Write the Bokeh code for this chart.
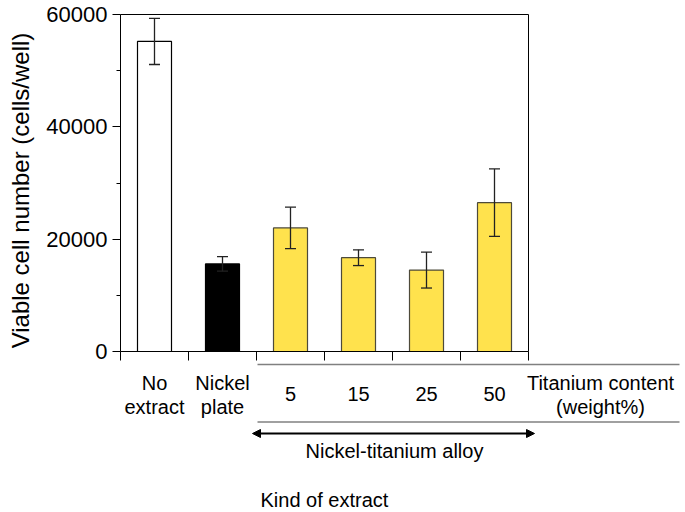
import math
from bokeh.plotting import figure
from bokeh.models import (ColumnDataSource, Range1d, FixedTicker, Whisker, TeeHead,
                          Arrow, NormalHead, LinearAxis, CustomLabelingPolicy)
from bokeh.core.properties import value
from bokeh.embed import file_html
from bokeh.resources import INLINE

# ---- data ----
categories = ["No extract", "Nickel plate", "5", "15", "25", "50"]
values = [55200, 15600, 22000, 16700, 14500, 26500]
errors = [4100, 1300, 3700, 1400, 3200, 6000]
fills = ["#ffffff", "#000000", "#ffe24d", "#ffe24d", "#ffe24d", "#ffe24d"]
outlines = ["#000000", "#000000", "#4d4a3a", "#4d4a3a", "#4d4a3a", "#4d4a3a"]
y_ticks = [0, 20000, 40000, 60000]
y_minor = [10000, 30000, 50000]

FONT = "Liberation Sans"
W, H = 685, 512
YMAX = 60000
NCAT = len(categories)
# plot-box geometry (pixels in canvas)
BOX_L, BOX_R, BOX_T, BOX_B = 120, 528, 14, 351
PX_PER_CAT = (BOX_R - BOX_L) / NCAT
PX_PER_VAL = (BOX_B - BOX_T) / YMAX

def xpx(px):
    return (px - BOX_L) / PX_PER_CAT

def ypx(py):
    return (BOX_B - py) / PX_PER_VAL

xs = [i + 0.5 for i in range(NCAT)]
src = ColumnDataSource(dict(x=xs, top=values, fill=fills, line=outlines,
                            upper=[v + e for v, e in zip(values, errors)],
                            lower=[v - e for v, e in zip(values, errors)]))

p = figure(width=W, height=H, output_backend="svg", toolbar_location=None,
           x_range=Range1d(xpx(0), xpx(W)), y_range=Range1d(ypx(H), ypx(0)),
           min_border_left=0, min_border_right=0, min_border_top=0, min_border_bottom=0,
           x_axis_location=None, y_axis_location=None)
p.grid.visible = False
p.outline_line_color = None
p.background_fill_color = "white"
p.border_fill_color = "white"

p.vbar(x="x", top="top", width=0.5, bottom=0, source=src,
       fill_color="fill", line_color="line", line_width=1.2)

wh = Whisker(source=src, base="x", upper="upper", lower="lower", level="overlay",
             line_color="#222222", line_width=1.3,
             upper_head=TeeHead(size=11, line_color="#222222", line_width=1.3),
             lower_head=TeeHead(size=11, line_color="#222222", line_width=1.3))
p.add_layout(wh)

# left y axis (at x = 0)
ya = LinearAxis(fixed_location=0, bounds=(0, YMAX),
                ticker=FixedTicker(ticks=y_ticks, minor_ticks=y_minor))
ya.major_label_text_font = FONT
ya.major_label_text_font_size = "22px"
ya.major_label_text_color = "black"
ya.major_label_standoff = 5
ya.major_tick_out = 8
ya.major_tick_in = 0
ya.minor_tick_out = 4
ya.minor_tick_in = 0
ya.axis_line_color = "black"
ya.major_tick_line_color = "black"
ya.minor_tick_line_color = "black"
p.add_layout(ya, "left")

# bottom x axis: ticks at category boundaries, labels suppressed
no_labels = CustomLabelingPolicy(code="""
    const ids = Array.from(indices)
    for (const i of ids)
        indices.unset(i)
    return indices
""")
xa = LinearAxis(fixed_location=0, bounds=(0, NCAT),
                ticker=FixedTicker(ticks=list(range(NCAT + 1)), minor_ticks=[]),
                major_label_policy=no_labels)
xa.major_tick_out = 9
xa.major_tick_in = 0
xa.axis_line_color = "black"
xa.major_tick_line_color = "black"
p.add_layout(xa, "below")

# top and right frame lines
ta = LinearAxis(fixed_location=YMAX, bounds=(0, NCAT),
                ticker=FixedTicker(ticks=[], minor_ticks=[]))
ta.major_tick_line_color = None
ta.minor_tick_line_color = None
p.add_layout(ta, "above")
ra = LinearAxis(fixed_location=NCAT, bounds=(0, YMAX),
                ticker=FixedTicker(ticks=[], minor_ticks=[]))
ra.major_tick_line_color = None
ra.minor_tick_line_color = None
p.add_layout(ra, "right")

def lab(text, x, y, align="center", angle=0.0, size="20px"):
    p.text(x=[x], y=[y], text=[text], text_font=value(FONT), text_font_size=value(size),
           text_color="black", text_align=align, text_baseline="middle", angle=angle)

# y axis title
lab("Viable cell number (cells/well)", xpx(20), ypx(190), angle=math.pi / 2, size="24px")

# category labels
lab("No", xs[0], ypx(382)); lab("extract", xs[0], ypx(406))
lab("Nickel", xs[1], ypx(382)); lab("plate", xs[1], ypx(406))
for i in range(2, NCAT):
    lab(categories[i], xs[i], ypx(393))
lab("Titanium content", xpx(600), ypx(382))
lab("(weight%)", xpx(600), ypx(406))
lab("Nickel-titanium alloy", xpx(394), ypx(450))
lab("Kind of extract", xpx(260), ypx(499), align="left")

# gray separator lines
for py in (364, 421.5):
    p.segment(x0=[xpx(257)], y0=[ypx(py)], x1=[xpx(679)], y1=[ypx(py)],
              line_color="#808080", line_width=1.5)

# double-headed arrow
p.add_layout(Arrow(x_start=xpx(252), y_start=ypx(433), x_end=xpx(534), y_end=ypx(433),
                   line_color="black", line_width=2,
                   start=NormalHead(size=8, fill_color="black", line_color="black"),
                   end=NormalHead(size=8, fill_color="black", line_color="black")))

open("out.html", "w").write(file_html(p, INLINE))
